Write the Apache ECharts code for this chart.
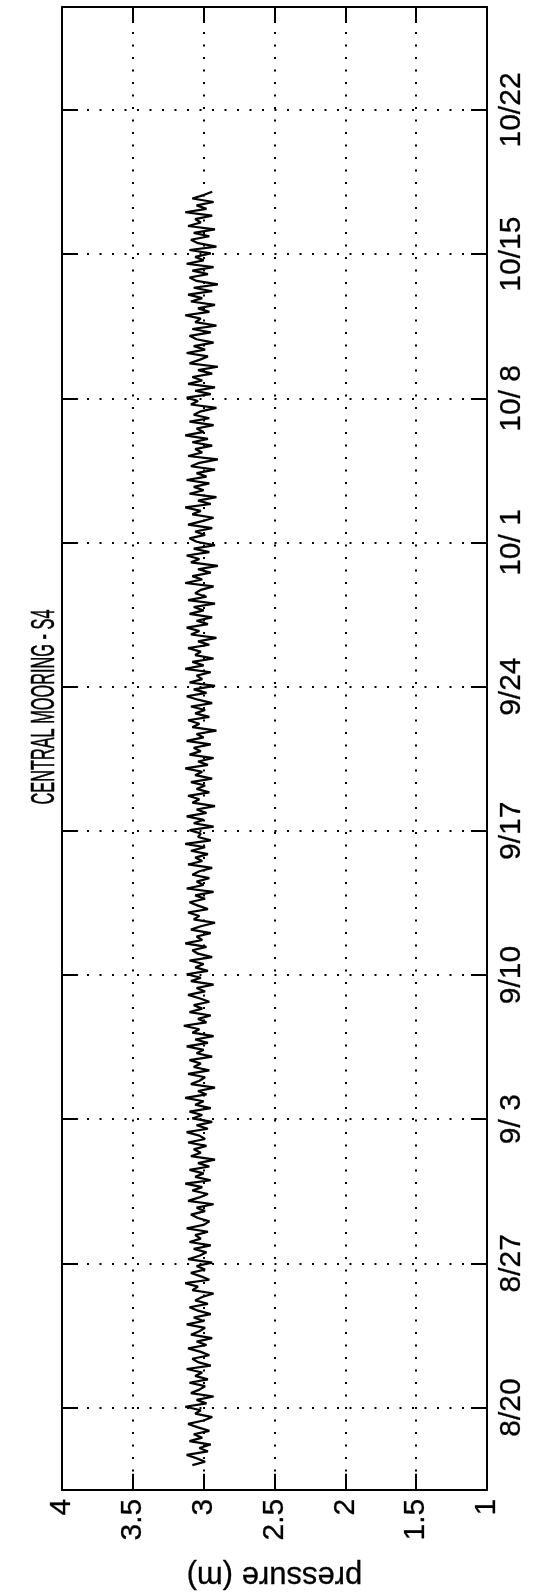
<!DOCTYPE html>
<html>
<head>
<meta charset="utf-8">
<script src="https://cdn.jsdelivr.net/npm/echarts@6/dist/echarts.min.js"></script>
<style>
html,body{margin:0;padding:0;background:#fff;}
#chart{width:534px;height:1596px;}
</style>
</head>
<body>
<div id="chart"></div>
<script>
// ---- data ----
const titleText = 'CENTRAL MOORING - S4';
const pressureLabel = 'pressure (m)';
// date axis: day of year
const dayMin = 228, dayMax = 300;
const dateTickDays = [232, 239, 246, 253, 260, 267, 274, 281, 288, 295];
const dateTickLabels = ['8/20', '8/27', '9/ 3', '9/10', '9/17', '9/24', '10/ 1', '10/ 8', '10/15', '10/22'];
// pressure axis
const pressureMin = 1, pressureMax = 4, pressureStep = 0.5;
// sampled series (4-hourly) starting at day 229.2
const seriesStartDay = 229.2;
const seriesStepDay = 1 / 6;
const pressure = [
  3.08,2.99,3.05,3.12,2.97,3.03,2.95,3.10,3.01,3.07,2.96,3.04,
  3.11,3.00,2.94,3.06,3.02,3.13,2.98,3.05,2.93,3.09,3.03,2.99,
  3.10,2.97,3.06,3.01,3.12,2.95,3.04,3.08,2.96,3.02,3.11,2.98,
  3.05,2.94,3.09,3.03,2.99,3.12,3.00,3.07,2.95,3.04,3.10,2.97,
  3.06,3.01,2.93,3.08,3.04,3.13,2.96,3.02,3.09,2.99,3.05,2.94,
  3.11,3.03,2.98,3.07,2.95,3.10,3.02,3.06,2.97,3.12,3.00,2.96,
  3.04,3.09,2.99,3.05,2.93,3.11,3.03,2.97,3.08,3.01,3.13,2.95,
  3.06,3.00,3.10,2.96,3.04,2.92,3.09,3.02,3.07,2.98,3.11,2.99,
  3.03,3.12,2.97,3.05,2.94,3.08,3.01,3.10,2.95,3.06,3.00,3.13,
  2.98,3.04,2.92,3.09,3.03,2.99,3.11,2.96,3.07,3.02,3.10,2.94,
  3.05,3.00,3.12,2.97,3.06,2.93,3.08,3.03,3.14,2.98,3.04,2.95,
  3.10,3.01,3.07,2.96,3.03,3.11,2.99,3.05,2.93,3.09,3.02,3.12,
  2.97,3.06,3.00,3.10,2.94,3.04,3.08,2.98,3.13,3.01,3.05,2.95,
  3.09,3.02,2.92,3.07,3.03,3.11,2.97,3.04,3.10,2.99,3.06,2.93,
  3.12,3.00,3.05,2.96,3.08,3.03,2.94,3.11,3.01,3.06,2.97,3.09,
  2.99,3.13,2.95,3.04,3.02,3.10,2.93,3.07,3.00,3.12,2.98,3.05,
  2.92,3.08,3.03,3.11,2.96,3.05,2.99,3.09,2.94,3.06,3.01,3.13,
  2.97,3.04,2.93,3.10,3.02,3.07,2.95,3.12,3.00,3.05,2.91,3.08,
  3.03,3.11,2.96,3.06,2.99,3.09,2.94,3.04,3.12,2.98,3.07,2.92,
  3.10,3.01,3.05,2.95,3.13,3.00,3.08,2.93,3.06,3.02,3.11,2.96,
  3.04,2.91,3.09,3.03,3.12,2.97,3.05,2.94,3.10,3.00,3.07,2.92,
  3.11,2.98,3.06,3.02,2.93,3.13,3.01,3.08,2.95,3.04,2.90,3.09,
  3.03,3.12,2.96,3.07,2.92,3.05,3.10,2.99,3.06,2.94,3.11,3.01,
  2.93,3.08,3.02,3.13,2.95,3.04,2.91,3.10,3.00,3.07,2.96,3.12,
  2.98,3.05,2.92,3.09,3.03,2.90,3.11,3.01,3.06,2.94,3.08,2.97,
  3.13,3.00,3.05,2.93,3.10,2.96,3.07,3.02,2.91,3.09,3.04,3.12,
  2.95,3.06,2.92,3.11,3.01,3.08,2.94,3.04,2.90,3.10,3.03,2.97,
  3.12,2.99,3.07,2.93,3.05,3.10,2.95,3.08,2.91,3.06,3.02,3.13,
  2.96,3.04,2.92,3.09,3.01,3.11,2.94,3.07,2.90,3.05,3.10,2.97,
  3.08,2.93,3.12,3.00,3.06,2.95,3.10,2.91,3.04,3.09,2.96,3.07,
  2.92,3.11,3.02,3.06,2.94,3.13,2.98,3.05,2.93,3.08,3.00,2.94
];

// ---- build ----
const seriesData = pressure.map((p, i) => [p, seriesStartDay + i * seriesStepDay]);
const FONT = '"Liberation Sans", Arial, Helvetica, sans-serif';
const axisLineStyle = { color: '#000', width: 2 };
const gridLineStyle = { color: '#000', width: 2, type: [2, 10.5] };
const tickStyle = { color: '#000', width: 2 };
const inkText = { color: '#000', textBorderColor: '#000', textBorderWidth: 0.3 };

const chart = echarts.init(document.getElementById('chart'), null, { renderer: 'canvas' });
chart.setOption({
  backgroundColor: '#fff',
  animation: false,
  grid: { left: 62, top: 7, width: 425, height: 1492, containLabel: false },
  graphic: [{
    type: 'text',
    x: 45, y: 707,
    rotation: Math.PI / 2,
    scaleX: 0.68, scaleY: 1.35,
    style: { text: titleText, font: '24px ' + FONT, fill: '#000', stroke: '#000', lineWidth: 0.4,
             align: 'center', verticalAlign: 'middle' }
  }],
  xAxis: [{
    type: 'value', position: 'bottom', inverse: true,
    min: pressureMin, max: pressureMax, interval: pressureStep,
    name: pressureLabel, nameLocation: 'middle', nameGap: 70, nameRotate: 180,
    nameTextStyle: Object.assign({ fontFamily: FONT, fontSize: 31 }, inkText),
    axisLine: { show: true, lineStyle: axisLineStyle },
    axisTick: { show: true, inside: true, length: 16, lineStyle: tickStyle },
    axisLabel: Object.assign({ rotate: 90, margin: 9, fontFamily: FONT, fontSize: 30,
                 formatter: v => String(v) }, inkText),
    splitLine: { show: true, lineStyle: gridLineStyle }
  }, {
    type: 'value', position: 'top', inverse: true,
    min: pressureMin, max: pressureMax, interval: pressureStep,
    axisLine: { show: true, lineStyle: axisLineStyle },
    axisTick: { show: true, inside: true, length: 16, lineStyle: tickStyle },
    axisLabel: { show: false },
    splitLine: { show: false }
  }],
  yAxis: [{
    type: 'value', position: 'right',
    min: dayMin, max: dayMax,
    axisLine: { show: true, lineStyle: axisLineStyle },
    axisTick: { show: true, inside: true, length: 16, customValues: dateTickDays, lineStyle: tickStyle },
    axisLabel: Object.assign({ rotate: 90, margin: 10, customValues: dateTickDays, fontFamily: FONT, fontSize: 30,
                 formatter: v => dateTickLabels[dateTickDays.indexOf(Math.round(v))] || '' }, inkText),
    splitLine: { show: true, lineStyle: gridLineStyle }
  }, {
    type: 'value', position: 'left',
    min: dayMin, max: dayMax,
    axisLine: { show: true, lineStyle: axisLineStyle },
    axisTick: { show: true, inside: true, length: 16, customValues: dateTickDays, lineStyle: tickStyle },
    axisLabel: { show: false },
    splitLine: { show: false }
  }],
  series: [{
    type: 'line',
    xAxisIndex: 0, yAxisIndex: 0,
    data: seriesData,
    showSymbol: false,
    lineStyle: { color: '#000', width: 2.2 },
    silent: true
  }]
});
</script>
</body>
</html>
